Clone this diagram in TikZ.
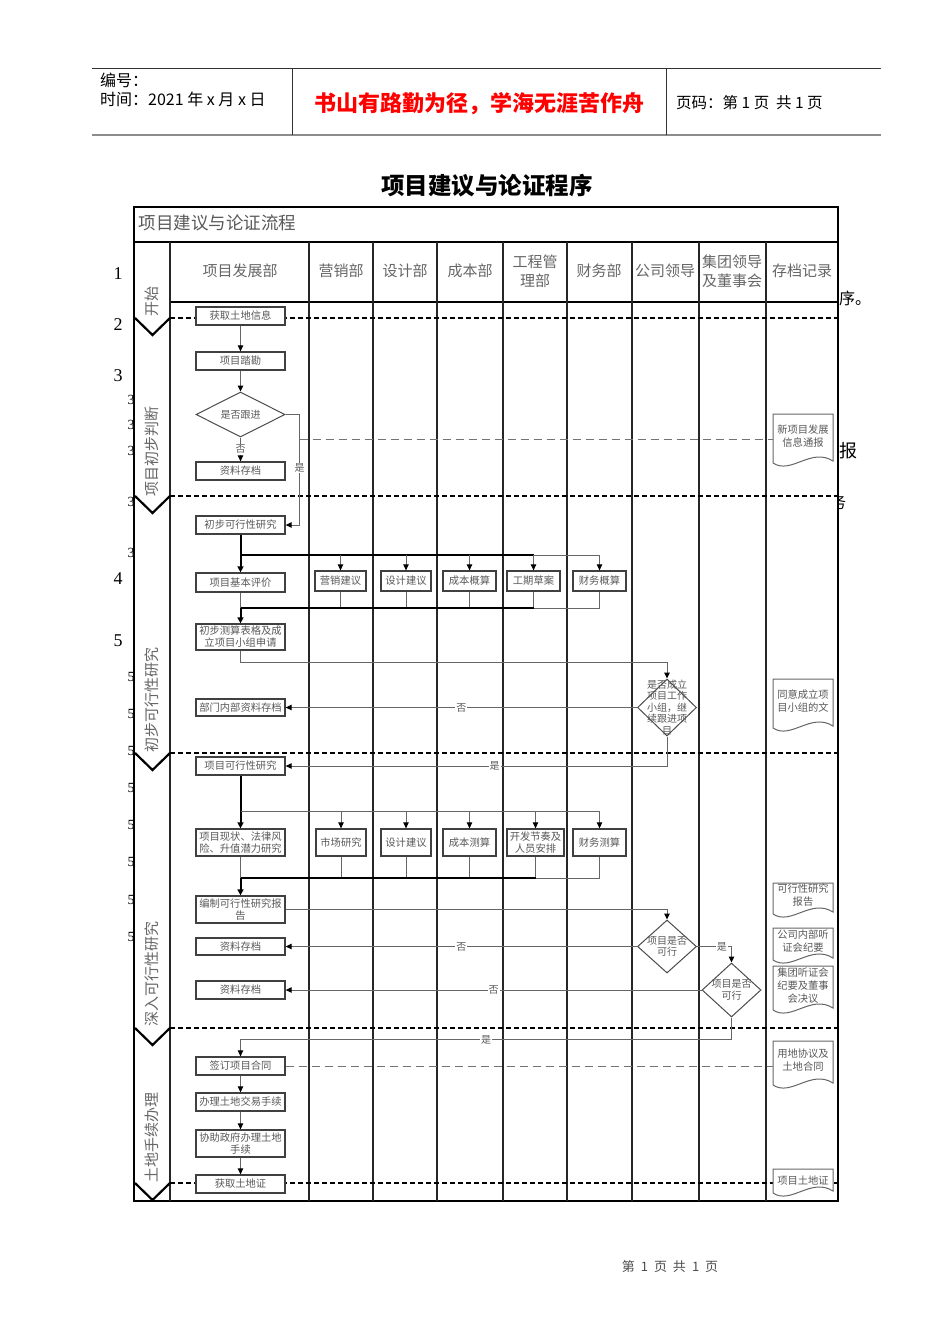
\documentclass[tikz,border=0pt]{standalone}
\usepackage{fontspec}
\newfontfamily\cjk{Noto Sans CJK SC}
\newfontfamily\numfont{Liberation Serif}
\usetikzlibrary{arrows.meta, shapes.geometric, positioning}

\tikzset{
  box/.style={draw=black!75, line width=1.3pt, fill=white, minimum width=89pt, minimum height=18pt,
    inner sep=1pt, align=center, text=black!65, font=\cjk\fontsize{10.3}{12}\selectfont},
  choice/.style={diamond, draw=black!70, line width=1pt, fill=white, inner sep=0pt},
  qtext/.style={align=center, inner sep=0pt, text=black!65, font=\cjk\fontsize{10}{11.5}\selectfont},
  flow/.style={draw=black!60, line width=1pt},
  arr/.style={flow, -{Triangle[length=6pt, width=5.5pt, color=black]}},
  trunk/.style={draw=black, line width=2pt},
  trunkarr/.style={trunk, -{Triangle[length=6pt, width=6pt]}},
  dashline/.style={draw=black!55, line width=1pt, dash pattern=on 8pt off 5pt},
  sep/.style={draw=black, line width=2.2pt, dash pattern=on 5pt off 3pt},
  lbl/.style={fill=white, inner sep=1pt, text=black!65, font=\cjk\fontsize{10}{12}\selectfont},
  lane/.style={align=center, text=black!60, font=\cjk\fontsize{15}{19}\selectfont},
  phase/.style={rotate=90, text=black!60, font=\cjk\fontsize{15}{15}\selectfont},
  docline/.style={draw=black!60, line width=1pt, fill=white},
  doctext/.style={anchor=north, text width=54pt, inner sep=3pt, align=center,
    text=black!65, font=\cjk\fontsize{10.3}{13}\selectfont},
  stray/.style={inner sep=0pt, font=\numfont\fontsize{18}{18}\selectfont},
  strayc/.style={inner sep=0pt, anchor=west, font=\cjk\fontsize{16}{16}\selectfont},
}

% archive document: name, x centre, top, height, text offset, text
\newcommand{\docnote}[6]{%
  \filldraw[docline] (#2-30,#3) -- (#2+30,#3) -- (#2+30,#3+#4-2)
    .. controls (#2+8,#3+#4-16) and (#2-12,#3+#4+12) .. (#2-30,#3+#4) -- cycle;
  \node[doctext] (#1) at (#2,#3+#5) {#6};
}

\begin{document}
\begin{tikzpicture}[x=1pt, y=-1pt]

\useasboundingbox (0,0) rectangle (950,1344);

% page head
\draw[black!80, line width=1pt] (92,68) -- (881,68);
\draw[black!45, line width=2pt] (92,135) -- (881,135);
\draw[black!80, line width=1pt] (292,68) -- (292,135);
\draw[black!80, line width=1pt] (666,68) -- (666,135);
\node[anchor=west, inner sep=0pt, font=\cjk\fontsize{16}{16}\selectfont] (code) at (100,80) {编号：};
\node[anchor=west, inner sep=0pt, font=\cjk\fontsize{16}{16}\selectfont] (time) at (100,99) {时间：2021 年 x 月 x 日};
\node[text=red, font=\cjk\bfseries\fontsize{22}{22}\selectfont] (motto) at (479,104) {书山有路勤为径，学海无涯苦作舟};
\node[anchor=west, inner sep=0pt, font=\cjk\fontsize{15.5}{15.5}\selectfont] (page) at (676,103) {页码：第 1 页\ \ 共 1 页};

\node[font=\cjk\bfseries\fontsize{23.5}{24}\selectfont] (title) at (487,186) {项目建议与论证程序};

% text lying under the chart
\foreach \y/\t [count=\i] in {274/1, 325/2, 376/3, 579/4, 641/5}
	\node[stray] (big\i) at (118,\y) {\t};
\foreach \y [count=\i] in {400, 425, 451, 502, 553}
	\node[stray, anchor=west, font=\numfont\fontsize{14}{14}\selectfont] (three\i) at (127.5,\y) {3.3};
\foreach \y [count=\i] in {677, 714, 751, 788, 825, 862, 900, 937}
	\node[stray, anchor=west, font=\numfont\fontsize{14}{14}\selectfont] (five\i) at (127.5,\y) {5.1};
\node[strayc] (r1) at (839,298) {序。};
\node[strayc, font=\cjk\fontsize{18}{18}\selectfont] (r2) at (839,451) {报};
\node[strayc] (r3) at (830,502) {务};

% chart frame
\fill[white] (134,207) rectangle (838,1201);
\draw[black, line width=1.3pt] (134,207) rectangle (838,1201);
\draw[black, line width=2.5pt] (134,242) -- (838,242);
\draw[black, line width=1.3pt] (170,302) -- (838,302);
\foreach \x in {170, 309, 373, 437, 503, 567, 632, 699, 766}
	\draw[black!85, line width=1.3pt] (\x,242) -- (\x,1201);
\node[anchor=west, text=black!65, font=\cjk\fontsize{17.5}{18}\selectfont] (chartname) at (135,223) {项目建议与论证流程};

\foreach \x/\t [count=\i] in {240/项目发展部, 341/营销部, 405/设计部, 470/成本部, 535/{工程管\\理部},
		599/财务部, 665/公司领导, 732/{集团领导\\及董事会}, 802/存档记录}
	\node[lane] (lane\i) at (\x,271) {\t};

% phases
\foreach \y in {318, 496, 753, 1028, 1183} {
	\draw[sep] (170,\y) -- (838,\y);
	\draw[black, line width=2.2pt] (135,\y) -- (152.5,\y+17) -- (170,\y);
}
\node[phase] (ph1) at (152,301) {开始};
\node[phase] (ph2) at (152,451) {项目初步判断};
\node[phase] (ph3) at (152,700) {初步可行性研究};
\node[phase] (ph4) at (152,974) {深入可行性研究};
\node[phase] (ph5) at (152,1137) {土地手续办理};

% archive records
\docnote{news}{803}{414}{49}{7.5}{新项目发展\\信息通报}
\docnote{agree}{803}{679}{49}{7.5}{同意成立项\\目小组的文}
\docnote{rep}{803}{883}{31}{-2.5}{可行性研究\\报告}
\docnote{hear}{803}{928}{32}{-1.5}{公司内部听\\证会纪要}
\docnote{board}{803}{966}{44}{-1.5}{集团听证会\\纪要及董事\\会决议}
\docnote{land}{803}{1041}{44}{4.5}{用地协议及\\土地合同}
\docnote{cert2}{803}{1169}{24}{3.5}{项目土地证}

% steps
\node[box] (getinfo) at (240.5,316) {获取土地信息};
\node[box] (survey) at (240.5,361) {项目踏勘};
\node[choice, minimum width=89pt, minimum height=45pt, label={[qtext]center:是否跟进}] (follow) at (240.5,414.5) {};
\node[box] (archive1) at (240.5,471) {资料存档};
\node[box] (prestudy) at (240.5,525) {初步可行性研究};

\node[box, minimum height=19pt] (evaluate) at (240.5,582.5) {项目基本评价};
\foreach \n/\x/\w/\t in {mkt/340.5/51/营销建议, dsg/406/50/设计建议, cst/469.5/53/成本概算,
		sch/533.5/53/工期草案, fin/599.5/53/财务概算}
	\node[box, minimum width=\w pt, minimum height=20pt] (\n) at (\x,581) {\t};
\node[box, minimum height=26pt] (estimate) at (240.5,637) {初步测算表格及成\\立项目小组申请};
\node[choice, minimum width=59pt, minimum height=57pt,
	label={[qtext]center:{是否成立\\项目工作\\小组，继\\续跟进项\\目}}] (team) at (667,707.5) {};
\node[box, minimum height=17pt] (archive2) at (240.5,707.5) {部门内部资料存档};

\node[box] (fullstudy) at (240.5,766) {项目可行性研究};
\node[box, minimum height=27pt] (status) at (240.5,842.5) {项目现状、法律风\\险、升值潜力研究};
\foreach \n/\x/\w/\t in {mkt2/341/50/市场研究, dsg2/406/50/设计建议, cst2/469.5/53/成本测算,
		sch2/535.5/57/{开发节奏及\\人员安排}, fin2/599.5/53/财务测算}
	\node[box, minimum width=\w pt, minimum height=27pt] (\n) at (\x,842.5) {\t};
\node[box, minimum height=27pt] (report) at (240.5,909.5) {编制可行性研究报\\告};
\node[choice, minimum width=59pt, minimum height=53pt, label={[qtext]center:{项目是否\\可行}}] (feas1) at (667,946.5) {};
\node[box, minimum height=17pt] (archive3) at (240.5,946.5) {资料存档};
\node[choice, minimum width=59pt, minimum height=54pt, label={[qtext]center:{项目是否\\可行}}] (feas2) at (731.5,990) {};
\node[box] (archive4) at (240.5,990) {资料存档};

\node[box] (contract) at (240.5,1066) {签订项目合同};
\node[box] (deal) at (240.5,1102) {办理土地交易手续};
\node[box, minimum height=27pt] (assist) at (240.5,1143.5) {协助政府办理土地\\手续};
\node[box] (cert) at (240.5,1184) {获取土地证};

% connectors
\draw[arr] (getinfo) -- (survey);
\draw[arr] (survey) -- (follow);
\draw[arr] (follow) -- node[lbl] {否} (archive1);
\draw[arr] (follow.east) -- ++(14,0) |- node[lbl, pos=0.242] {是} coordinate[pos=0.115] (tap) (prestudy.east);
\draw[dashline] (tap) -- (tap -| news.west);

\coordinate (split1) at (240.5,555);
\coordinate (join1) at (240.5,608);
\draw[trunkarr] (prestudy) -- (evaluate);
\draw[trunk] (split1) -- (split1 -| sch.north);
\draw[flow] (split1 -| sch.north) -- (split1 -| fin.north);
\foreach \n in {mkt, dsg, cst, sch, fin} {
	\draw[arr] (split1 -| \n.north) -- (\n.north);
	\draw[flow] (\n.south) -- (\n.south |- join1);
}
\draw[flow] (evaluate) -- (join1);
\draw[trunk] (join1) -- (join1 -| sch.south);
\draw[flow] (join1 -| sch.south) -- (join1 -| fin.south);
\draw[trunkarr] (join1) -- (estimate);

\draw[arr] (estimate.south) -- ++(0,12) -| (team.north);
\draw[arr] (team.west) -- node[lbl] {否} (team.west -| archive2.east);
\draw[arr] (team.south) |- node[lbl, pos=0.726] {是} (fullstudy.east);

\coordinate (split2) at (240.5,811);
\coordinate (join2) at (240.5,878);
\draw[trunkarr] (fullstudy) -- (status);
\draw[flow] (split2) -- (split2 -| fin2.north);
\foreach \n in {mkt2, dsg2, cst2, sch2, fin2} {
	\draw[arr] (split2 -| \n.north) -- (\n.north);
	\draw[flow] (\n.south) -- (\n.south |- join2);
}
\draw[flow] (status) -- (join2);
\draw[trunk] (join2) -- (join2 -| sch2.south);
\draw[flow] (join2 -| sch2.south) -- (join2 -| fin2.south);
\draw[trunkarr] (join2) -- (report);

\draw[arr] (report.east) -| (feas1.north);
\draw[arr] (feas1.west) -- node[lbl] {否} (feas1.west -| archive3.east);
\draw[arr] (feas1.east) -| node[lbl, pos=0.36] {是} (feas2.north);
\draw[arr] (feas2.west) -- node[lbl] {否} (feas2.west -| archive4.east);
\draw[arr] (feas2.south) -- ++(0,22) -| node[lbl, pos=0.25] {是} (contract.north);
\draw[dashline] (contract.east) -- (contract.east -| land.west);
\draw[arr] (contract) -- (deal);
\draw[arr] (deal) -- (assist);
\draw[arr] (assist) -- (cert);

% page foot
\node[text=black!70, font=\cjk\fontsize{13}{13}\selectfont] (foot) at (670,1267) {第\hspace{6pt}1\hspace{6pt}页\hspace{6pt}共\hspace{6pt}1\hspace{6pt}页};

\end{tikzpicture}
\end{document}
